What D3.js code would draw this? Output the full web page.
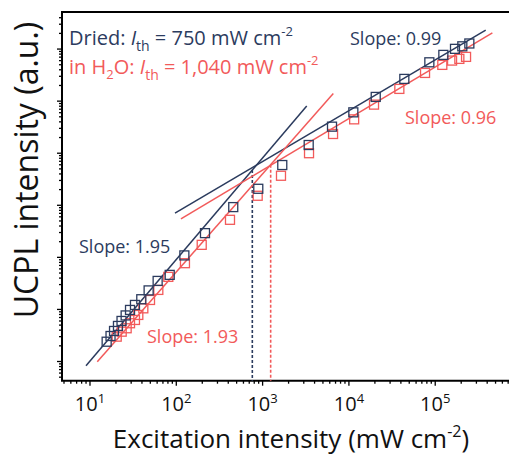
<!DOCTYPE html>
<html>
<head>
<meta charset="utf-8">
<script src="https://cdn.jsdelivr.net/npm/d3@7"></script>
<style>
  body { margin: 0; background: #fff; }
  svg { display: block; font-family: "Open Sans", sans-serif; }
</style>
</head>
<body>
<svg id="chart"></svg>
<script>
const navy = "#2b3b5e";
const red = "#f25a5a";

// excitation intensity (mW cm-2) and UCPL intensity (a.u.), dried film
const driedX = [15.6, 17.3, 19.0, 21.1, 23.2, 25.9, 29.1, 33.2, 39.3, 47.8, 60.8, 83.9, 124, 215, 457, 891,
                1690, 3420, 6370, 11250, 20450, 43850, 85480, 124200, 169500, 206000, 248500];
const driedY = [2.40, 3.09, 3.86, 4.82, 6.01, 7.67, 9.78, 12.2, 15.7, 23.2, 35.3, 46.1, 109, 292, 923, 2075,
                5930, 14380, 32360, 60950, 120500, 267300, 557000, 773000, 1010000, 1130000, 1280000];

// same sample in H2O
const waterX = [20.4, 23.3, 26.6, 29.1, 33.2, 36.3, 41.5, 49.6, 61.9, 80.8, 126, 197, 419, 877,
                1633, 3450, 6550, 11500, 19540, 38400, 76200, 120800, 156700, 190300, 227600];
const waterY = [3.00, 3.74, 4.35, 5.43, 6.28, 7.84, 10.5, 15.2, 23.7, 42.2, 77.3, 174, 526, 1523,
                3690, 10000, 23400, 44700, 85700, 171800, 348000, 497000, 601000, 648000, 708000];

// fitted power laws: log10(y) = b + slope * log10(x), drawn between x0 and x1
const driedFits = [
  { slope: 1.95, b: -1.941, x0: 8.99, x1: 3245 },
  { slope: 0.9755, b: 0.914, x0: 96.6, x1: 384600 }
];
const waterFits = [
  { slope: 1.883, b: -2.046, x0: 12.15, x1: 6592 },
  { slope: 0.99, b: 0.707, x0: 113.2, x1: 459200 }
];
const thresholds = [{ x: 760, color: navy, fit: driedFits[0] }, { x: 1240, color: red, fit: waterFits[0] }];

const xTickLabels = ["1", "2", "3", "4", "5"];

const W = 509, H = 457;
let svg = d3.select("#chart").attr("width", W).attr("height", H);

let x = d3.scaleLog().domain([4.74, 8.4e5]).range([62, 515]);
let y = d3.scaleLog().domain([0.428, 5.15e6]).range([380.7, 12]);

const isMajor = v => Math.abs(Math.log10(v) - Math.round(Math.log10(v))) < 1e-6;

// frame
svg.append("path")
  .attr("d", `M${x.range()[1]},${y.range()[1]} H${x.range()[0]} V${y.range()[0]} H${x.range()[1]}`)
  .attr("fill", "none").attr("stroke", "#000").attr("stroke-width", 2);

// x ticks
let xg = svg.append("g");
x.ticks().forEach(v => {
  let px = x(v);
  if (px < 63 || px > 509) return;
  xg.append("line")
    .attr("x1", px).attr("x2", px)
    .attr("y1", y.range()[0]).attr("y2", y.range()[0] + (isMajor(v) ? 5 : 3))
    .attr("stroke", "#000").attr("stroke-width", 1.3);
});
xTickLabels.forEach(p => {
  let t = xg.append("text")
    .attr("x", x(Math.pow(10, +p))).attr("y", 411)
    .attr("text-anchor", "middle").attr("font-size", 20).attr("fill", "#111");
  t.append("tspan").text("10");
  t.append("tspan").attr("dy", -8).attr("font-size", 13).text(p);
});

// y ticks (no labels)
let yg = svg.append("g");
y.ticks().forEach(v => {
  let py = y(v);
  if (py < 13 || py > 380) return;
  yg.append("line")
    .attr("x1", x.range()[0]).attr("x2", x.range()[0] - (isMajor(v) ? 5 : 3))
    .attr("y1", py).attr("y2", py)
    .attr("stroke", "#000").attr("stroke-width", 1.3);
});

// threshold dashed lines
thresholds.forEach(d => {
  let top = Math.pow(10, d.fit.b + d.fit.slope * Math.log10(d.x));
  svg.append("line")
    .attr("x1", x(d.x)).attr("x2", x(d.x))
    .attr("y1", y(top)).attr("y2", y.range()[0])
    .attr("stroke", d.color).attr("stroke-width", 1.6)
    .attr("stroke-dasharray", "3,2");
});

// fit lines
function drawFits(fits, color) {
  fits.forEach(f => {
    let ly = v => Math.pow(10, f.b + f.slope * Math.log10(v));
    svg.append("line")
      .attr("x1", x(f.x0)).attr("y1", y(ly(f.x0)))
      .attr("x2", x(f.x1)).attr("y2", y(ly(f.x1)))
      .attr("stroke", color).attr("stroke-width", 1.5);
  });
}
drawFits(driedFits, navy);
drawFits(waterFits, red);

// hollow square markers
function drawSquares(xs, ys, color) {
  const s = 9;
  svg.append("g").selectAll("rect")
    .data(xs.map((v, i) => [v, ys[i]]))
    .join("rect")
    .attr("x", d => x(d[0]) - s / 2).attr("y", d => y(d[1]) - s / 2)
    .attr("width", s).attr("height", s)
    .attr("fill", "none").attr("stroke", color).attr("stroke-width", 1.3);
}
drawSquares(waterX, waterY, red);
drawSquares(driedX, driedY, navy);

// annotations
function ithText(xp, yp, color, pre, preSub, mid) {
  let t = svg.append("text").attr("x", xp).attr("y", yp)
    .attr("font-size", 20).attr("fill", color);
  t.append("tspan").text(pre);
  if (preSub) {
    t.append("tspan").attr("dy", 5).attr("font-size", 13).text(preSub);
    t.append("tspan").attr("dy", -5).text("O: ");
  }
  t.append("tspan").attr("font-style", "italic").text("I");
  t.append("tspan").attr("dy", 6).attr("font-size", 14).text("th");
  t.append("tspan").attr("dy", -6).text(mid);
  t.append("tspan").attr("dy", -9).attr("font-size", 13).text("-2");
}
ithText(69, 45, navy, "Dried: ", null, " = 750 mW cm");
ithText(69, 74, red, "in H", "2", " = 1,040 mW cm");

const slopeLabels = [
  { text: "Slope: 0.99", x: 350, y: 45, color: navy },
  { text: "Slope: 0.96", x: 405, y: 124, color: red },
  { text: "Slope: 1.95", x: 79, y: 253, color: navy },
  { text: "Slope: 1.93", x: 147, y: 343, color: red }
];
slopeLabels.forEach(d => {
  svg.append("text").attr("x", d.x).attr("y", d.y)
    .attr("font-size", 18).attr("fill", d.color).text(d.text);
});

// axis titles
let xt = svg.append("text").attr("x", 291).attr("y", 448)
  .attr("text-anchor", "middle").attr("font-size", 26).attr("fill", "#111");
xt.append("tspan").text("Excitation intensity (mW cm");
xt.append("tspan").attr("dy", -11).attr("font-size", 16).text("-2");
xt.append("tspan").attr("dy", 11).text(")");

svg.append("text")
  .attr("transform", "translate(38,170) rotate(-90)")
  .attr("text-anchor", "middle").attr("font-size", 32).attr("fill", "#111")
  .text("UCPL intensity (a.u.)");
</script>
</body>
</html>
